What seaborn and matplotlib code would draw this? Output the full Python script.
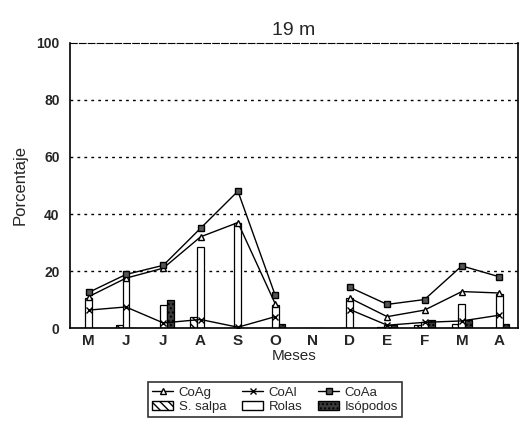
import numpy as np
import pandas as pd
import matplotlib
matplotlib.use("Agg")
import matplotlib.pyplot as plt
import seaborn as sns
from matplotlib.lines import Line2D
from matplotlib.patches import Patch

meses = ["M", "J", "J", "A", "S", "O", "N", "D", "E", "F", "M", "A"]

# bar series (percent)
s_salpa = [0, 1.0, 0, 4.0, 0, 0, 0, 0, 0.5, 1.0, 1.5, 0]
rolas = [10.5, 18.0, 8.0, 28.5, 37.0, 8.0, 0, 10.5, 1.0, 2.0, 8.5, 12.0]
isopodos = [0, 0, 10.0, 0, 0, 1.5, 0, 0, 1.0, 3.0, 3.0, 1.5]

# line series (percent), N has no sample
coag = [11.0, 17.5, 21.0, 32.0, 37.0, 8.5, np.nan, 10.5, 4.0, 6.3, 12.8, 12.3]
coal = [6.3, 7.4, 1.8, 3.0, 0.3, 4.0, np.nan, 6.5, 1.0, 2.0, 2.5, 4.5]
coaa = [12.5, 18.8, 22.0, 35.0, 48.0, 11.5, np.nan, 14.3, 8.3, 10.0, 21.8, 18.0]

series = ["S. salpa", "Rolas", "Isópodos"]

rows = []
for i in range(len(meses)):
    for name, vals in zip(series, [s_salpa, rolas, isopodos]):
        rows.append({"mes": i, "serie": name, "valor": vals[i]})
df = pd.DataFrame(rows)

sns.set_style("white")
plt.rcParams["font.family"] = ["Liberation Sans", "DejaVu Sans"]

fig = plt.figure(figsize=(5.3, 4.38), dpi=100)
ax = fig.add_axes([0.132, 0.251, 0.845, 0.651])

sns.barplot(data=df, x="mes", y="valor", hue="serie", hue_order=series,
            palette=["white", "white", "#3a3a3a"], width=0.55,
            edgecolor="black", linewidth=0.9, legend=False, ax=ax)

hatches = ["\\\\\\\\", "", "...."]
for cont, h in zip(ax.containers, hatches):
    for bar in cont:
        bar.set_hatch(h)

x = np.arange(len(meses))
ax.plot(x, coag, color="black", lw=1, marker="^", ms=5, mfc="white", mec="black")
ax.plot(x, coal, color="black", lw=1, marker="x", ms=5, mec="black")
ax.plot(x, coaa, color="black", lw=1, marker="s", ms=5, mfc="#555555", mec="black")

ax.set_xlim(-0.5, 11.5)
ax.set_ylim(0, 100)
ax.set_yticks([0, 20, 40, 60, 80, 100])
ax.set_xticks(x)
ax.set_xticklabels(meses, fontweight="bold", fontsize=11)
ax.set_xticks(np.arange(-0.5, 12, 1), minor=True)
ax.tick_params(axis="x", which="major", length=0, pad=4)
ax.tick_params(axis="x", which="minor", length=7, direction="inout", width=1)
ax.tick_params(axis="y", length=4, direction="out", width=1, labelsize=10)
for t in ax.get_yticklabels():
    t.set_fontweight("bold")

for yv in [20, 40, 60, 80]:
    ax.axhline(yv, color="black", lw=1, ls=(0, (2, 3)), zorder=0)

for side in ["left", "bottom", "right"]:
    ax.spines[side].set_color("black")
    ax.spines[side].set_linewidth(1.2)
ax.spines["top"].set_linestyle((0, (6, 2)))
ax.spines["top"].set_color("black")

ax.set_title("19 m", fontsize=14, pad=6)
ax.set_xlabel("Meses", fontsize=11, labelpad=1)
ax.set_ylabel("Porcentaje", fontsize=12, labelpad=6)

handles = [
    Line2D([], [], color="black", lw=1, marker="^", ms=4, mfc="white"),
    Patch(facecolor="white", edgecolor="black", hatch="\\\\\\\\"),
    Line2D([], [], color="black", lw=1, marker="x", ms=4),
    Patch(facecolor="white", edgecolor="black"),
    Line2D([], [], color="black", lw=1, marker="s", ms=4, mfc="#555555"),
    Patch(facecolor="#3a3a3a", edgecolor="black", hatch="...."),
]
labels = ["CoAg", "S. salpa", "CoAl", "Rolas", "CoAa", "Isópodos"]
leg = fig.legend(handles, labels, ncol=3, loc="upper center",
                 bbox_to_anchor=(0.519, 0.142), frameon=True, fancybox=False,
                 edgecolor="black", fontsize=9.5, handlelength=1.6,
                 handletextpad=0.4, columnspacing=1.2, labelspacing=0.2,
                 borderpad=0.3)
leg.get_frame().set_linewidth(1.2)

fig.savefig("out.png", dpi=100)
